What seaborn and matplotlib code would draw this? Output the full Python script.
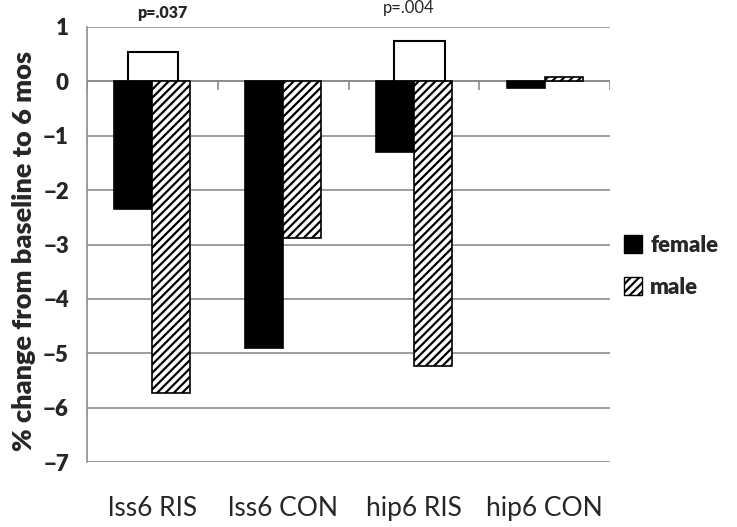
import matplotlib
matplotlib.use("Agg")
import matplotlib.pyplot as plt
import matplotlib.patches as mpatches
import seaborn as sns
import pandas as pd

# data
groups = ["lss6 RIS", "lss6 CON", "hip6 RIS", "hip6 CON"]
female = [-2.35, -4.9, -1.3, -0.12]
male = [-5.73, -2.88, -5.23, 0.07]

# significance brackets: group, height, label
sig_groups = ["lss6 RIS", "hip6 RIS"]
sig_heights = [0.53, 0.74]
sig_labels = ["p=.037", "p=.004"]
sig_weights = ["bold", "normal"]

df = pd.DataFrame({
    "group": groups * 2,
    "change": female + male,
    "sex": ["female"] * len(groups) + ["male"] * len(groups),
})

sns.set_style("white")
plt.rcParams["font.family"] = ["Lato", "DejaVu Sans"]
plt.rcParams["hatch.linewidth"] = 1.6

fig = plt.figure(figsize=(7.37, 5.27), dpi=100)
ax = fig.add_axes([0.118, 0.123, 0.710, 0.826])

sns.barplot(data=df, x="group", y="change", hue="sex", order=groups,
            palette=["black", "white"], edgecolor="black", linewidth=1.2,
            width=0.58, ax=ax, legend=False, zorder=3)
for bar in ax.containers[1]:
    bar.set_hatch("////")

ax.set_ylim(-7, 1)
ax.set_xlim(-0.5, len(groups) - 0.5)
ax.set_yticks(range(-7, 2))
ax.yaxis.grid(True, color="#8c8c8c", linewidth=1.2, zorder=0)
ax.set_axisbelow(True)

for side in ["top", "right", "bottom"]:
    ax.spines[side].set_visible(False)
ax.spines["left"].set_color("#8c8c8c")
ax.spines["left"].set_linewidth(1.2)

ax.tick_params(axis="y", length=8, width=1.2, color="#8c8c8c", labelsize=16,
               pad=5)
for lab in ax.get_yticklabels():
    lab.set_fontweight("heavy")
ax.tick_params(axis="x", length=0, labelsize=19, pad=24)

# category axis at zero with tick marks between the groups
ax.axhline(0, color="#8c8c8c", linewidth=1.2, zorder=2)
ax.vlines([i - 0.5 for i in range(len(groups) + 1)], -0.16, 0,
          color="#8c8c8c", linewidth=1.2, zorder=2)

ax.set_xlabel("")
ax.set_ylabel("% change from baseline to 6 mos", fontsize=19.5,
              fontweight="heavy", labelpad=6)
ax.yaxis.set_label_coords(-0.098, 0.485)

# significance brackets
left_off = {"lss6 RIS": -0.187, "hip6 RIS": -0.153}
right_off = {"lss6 RIS": 0.195, "hip6 RIS": 0.237}
text_off = {"lss6 RIS": 0.073, "hip6 RIS": -0.04}
for g, h, lab, w in zip(sig_groups, sig_heights, sig_labels, sig_weights):
    i = groups.index(g)
    x0, x1 = i + left_off[g], i + right_off[g]
    ax.plot([x0, x0, x1, x1], [0, h, h, 0], color="black", linewidth=1.5,
            zorder=4, solid_joinstyle="miter")
    ax.text(i + text_off[g], 1.1 if w == "bold" else 1.2, lab,
            ha="center", va="bottom", fontsize=11.5 if w == "bold" else 12,
            fontweight="heavy" if w == "bold" else "normal", clip_on=False)

handles = [mpatches.Patch(facecolor="black", edgecolor="black", label="female"),
           mpatches.Patch(facecolor="white", edgecolor="black", hatch="////",
                          label="male")]
leg = fig.legend(handles=handles, loc="center left",
                 bbox_to_anchor=(0.846, 0.495), frameon=False, borderpad=0,
                 borderaxespad=0,
                 prop={"size": 16, "weight": "heavy"}, handlelength=0.85,
                 handleheight=0.85, handletextpad=0.35, labelspacing=0.95)

fig.savefig("out.png", dpi=100)
